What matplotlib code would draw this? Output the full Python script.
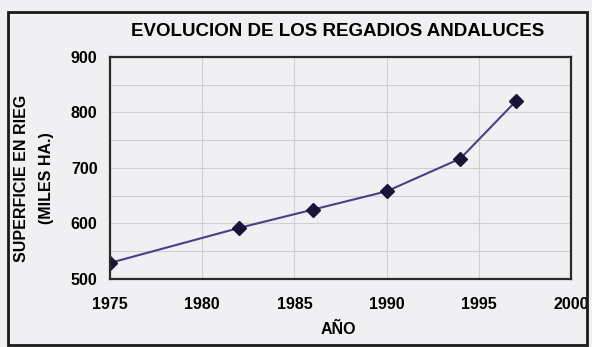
import matplotlib.pyplot as plt
from matplotlib.patches import Rectangle

# superficie regada en Andalucia (miles de ha)
anios = [1975, 1982, 1986, 1990, 1994, 1997]
superficie = [529, 592, 625, 658, 717, 820]

xticks = [1975, 1980, 1985, 1990, 1995, 2000]
yticks = [500, 600, 700, 800, 900]

plt.rcParams['font.family'] = ['Liberation Sans', 'DejaVu Sans']
plt.rcParams['font.weight'] = 'bold'

bg = '#f0f0f2'
fig = plt.figure(figsize=(5.92, 3.47), dpi=100, facecolor=bg)
ax = fig.add_axes([110/592, 1-279/347, (571-110)/592, (279-57)/347])
ax.set_facecolor(bg)

# marco exterior
fig.patches.append(Rectangle((8/592, 1-345/347), (587-8)/592, (345-12)/347,
                             transform=fig.transFigure, fill=False,
                             edgecolor='#1a1a1a', linewidth=2.0))

ax.plot(anios, superficie, color='#4d3d88', linewidth=1.5,
        marker='D', markersize=7.5, markerfacecolor='#1a1538',
        markeredgecolor='#1a1538')

ax.set_xlim(1975, 2000)
ax.set_ylim(500, 900)
ax.set_xticks(xticks)
ax.set_yticks(yticks)
ax.set_yticks([550, 650, 750, 850], minor=True)
ax.grid(True, which='both', color='#cfcfd2', linewidth=0.8)
ax.tick_params(which='both', length=0, labelsize=11.5)
ax.tick_params(axis='x', pad=13)
ax.tick_params(axis='y', pad=9)
for s in ax.spines.values():
    s.set_color('#2a2a2a')
    s.set_linewidth(1.6)

fig.text(338/592, 1-31/347, 'EVOLUCION DE LOS REGADIOS ANDALUCES',
         ha='center', va='center', fontsize=13.5, fontweight='bold')
fig.text(22/592, 1-178/347, 'SUPERFICIE EN RIEG', rotation=90,
         ha='center', va='center', fontsize=11.5, fontweight='bold')
fig.text(47/592, 1-178/347, '(MILES HA.)', rotation=90,
         ha='center', va='center', fontsize=11.5, fontweight='bold')
fig.text(338/592, 1-329/347, 'AÑO', ha='center', va='center',
         fontsize=11.5, fontweight='bold')

fig.savefig('out.png', dpi=100, facecolor=bg)
